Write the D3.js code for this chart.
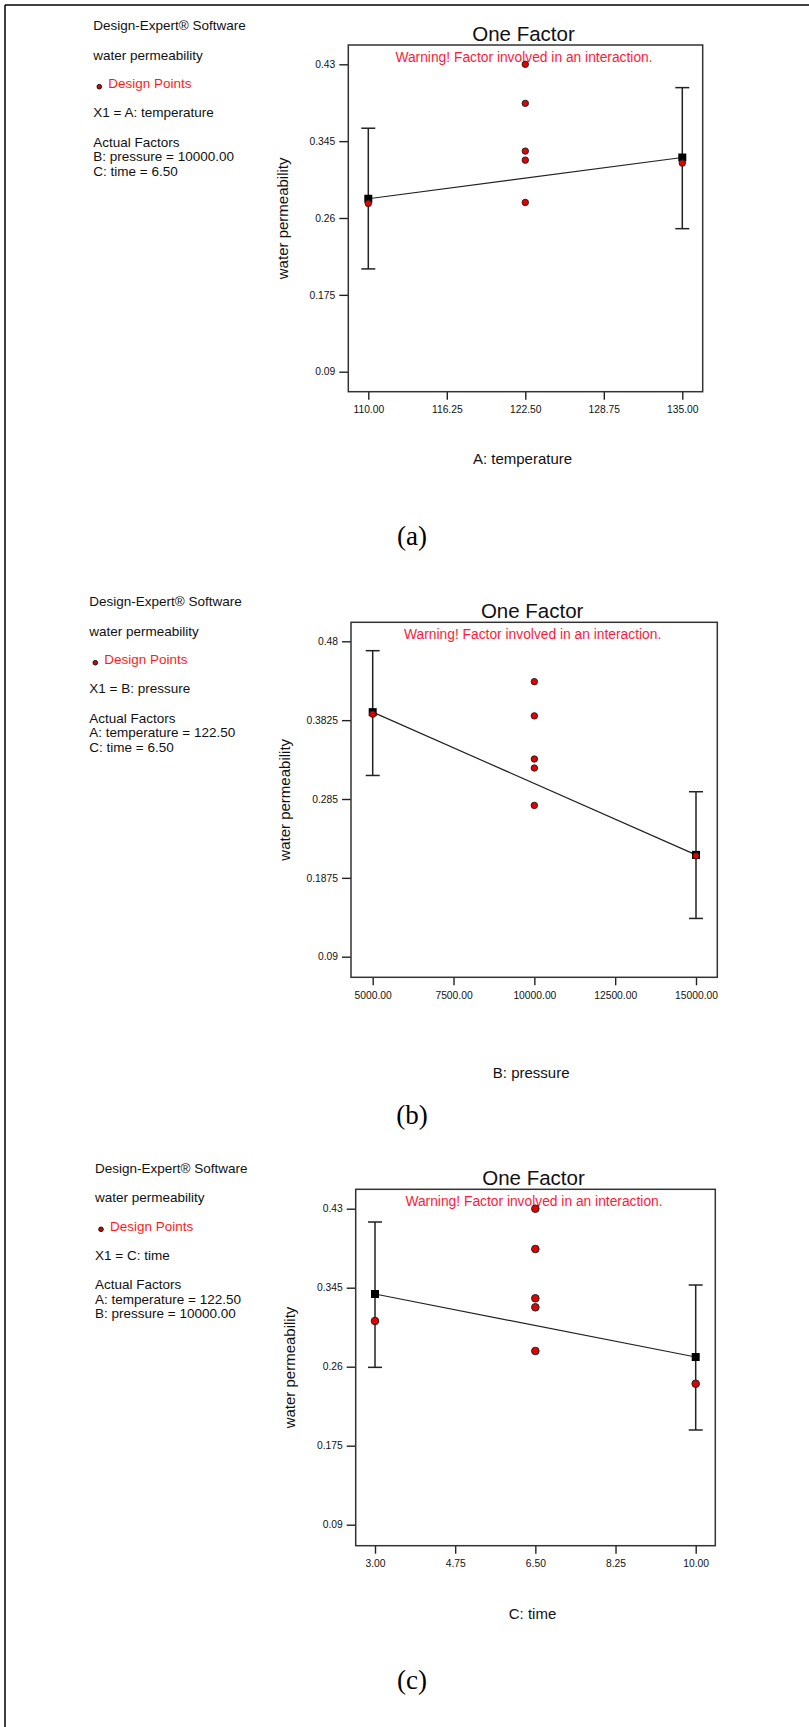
<!DOCTYPE html>
<html>
<head>
<meta charset="utf-8">
<script src="https://cdn.jsdelivr.net/npm/d3@7"></script>
<style>
  html, body { margin: 0; padding: 0; background: #fff; }
  svg { display: block; font-family: "Liberation Sans", Arial, sans-serif; }
</style>
</head>
<body>
<svg id="chart" width="809" height="1727"></svg>
<script>
// ---------------- DATA ----------------
const panelCaptions = ["(a)", "(b)", "(c)"];
const chartTitle = "One Factor";
const warningText = "Warning! Factor involved in an interaction.";
const responseName = "water permeability";
const xAxisTitles = ["A: temperature", "B: pressure", "C: time"];
const factorLines = ["X1 = A: temperature", "X1 = B: pressure", "X1 = C: time"];
const actualFactorsA = ["B: pressure = 10000.00", "C: time = 6.50"];
const actualFactorsB = ["A: temperature = 122.50", "C: time = 6.50"];
const actualFactorsC = ["A: temperature = 122.50", "B: pressure = 10000.00"];

// tick values and tick labels
const xTicksA = [110, 116.25, 122.5, 128.75, 135];
const xTickLabelsA = ["110.00", "116.25", "122.50", "128.75", "135.00"];
const xTicksB = [5000, 7500, 10000, 12500, 15000];
const xTickLabelsB = ["5000.00", "7500.00", "10000.00", "12500.00", "15000.00"];
const xTicksC = [3, 4.75, 6.5, 8.25, 10];
const xTickLabelsC = ["3.00", "4.75", "6.50", "8.25", "10.00"];
const yTicksA = [0.09, 0.175, 0.26, 0.345, 0.43];
const yTickLabelsA = ["0.09", "0.175", "0.26", "0.345", "0.43"];
const yTicksB = [0.09, 0.1875, 0.285, 0.3825, 0.48];
const yTickLabelsB = ["0.09", "0.1875", "0.285", "0.3825", "0.48"];
const yTicksC = [0.09, 0.175, 0.26, 0.345, 0.43];
const yTickLabelsC = ["0.09", "0.175", "0.26", "0.345", "0.43"];

// predicted means at factor levels with 95% CI bars
const levelsA = [110, 135];
const predA = [0.2813, 0.3269];
const lowA = [0.2037, 0.2482];
const highA = [0.3593, 0.4042];

const levelsB = [5000, 15000];
const predB = [0.3924, 0.2159];
const lowB = [0.3141, 0.1373];
const highB = [0.4684, 0.2940];

const levelsC = [3, 10];
const predC = [0.3382, 0.2704];
const lowC = [0.2593, 0.1919];
const highC = [0.4157, 0.3479];

// design points (actual observations)
const designXA = [110, 135, 122.5, 122.5, 122.5, 122.5, 122.5];
const designYA = [0.2761, 0.3207, 0.4300, 0.3868, 0.3340, 0.3240, 0.2772];
const designXB = [5000, 15000, 10000, 10000, 10000, 10000, 10000];
const designYB = [0.3899, 0.2147, 0.4301, 0.3878, 0.3344, 0.3233, 0.2771];
const designXC = [3, 10, 6.5, 6.5, 6.5, 6.5, 6.5];
const designYC = [0.3092, 0.2417, 0.4300, 0.3866, 0.3336, 0.3239, 0.2769];

// ---------------- LAYOUT ----------------
const SANS = "'Liberation Sans', Arial, sans-serif";
const SERIF = "'Liberation Serif', 'Times New Roman', serif";

const panels = [
  {
    caption: panelCaptions[0], xTitle: xAxisTitles[0], factor: factorLines[0], actual: actualFactorsA,
    xTicks: xTicksA, xTickLabels: xTickLabelsA, yTicks: yTicksA, yTickLabels: yTickLabelsA,
    levels: levelsA, pred: predA, low: lowA, high: highA, dx: designXA, dy: designYA,
    box: { l: 348.3, t: 45, r: 702.7, b: 391.7 },
    xr: [368.3, 682.3], yr: [371.7, 64.3], xTitleY: 458, captionX: 412, captionY: 545,
    leg: { x: 93.3, y0: 25.7 }, dotR: 3.2
  },
  {
    caption: panelCaptions[1], xTitle: xAxisTitles[1], factor: factorLines[1], actual: actualFactorsB,
    xTicks: xTicksB, xTickLabels: xTickLabelsB, yTicks: yTicksB, yTickLabels: yTickLabelsB,
    levels: levelsB, pred: predB, low: lowB, high: highB, dx: designXB, dy: designYB,
    box: { l: 351, t: 622.3, r: 717.3, b: 977.3 },
    xr: [372.7, 696], yr: [956.7, 641.3], xTitleY: 1072, captionX: 412, captionY: 1124,
    leg: { x: 89.3, y0: 601.7 }, dotR: 3.2
  },
  {
    caption: panelCaptions[2], xTitle: xAxisTitles[2], factor: factorLines[2], actual: actualFactorsC,
    xTicks: xTicksC, xTickLabels: xTickLabelsC, yTicks: yTicksC, yTickLabels: yTickLabelsC,
    levels: levelsC, pred: predC, low: lowC, high: highC, dx: designXC, dy: designYC,
    box: { l: 355.7, t: 1189.3, r: 715.3, b: 1545.7 },
    xr: [375, 695.7], yr: [1524.7, 1208.7], xTitleY: 1613.6, captionX: 412, captionY: 1689,
    leg: { x: 95, y0: 1168.3 }, dotR: 3.8
  }
];

const svg = d3.select("#chart");

// page frame (left and top edges)
svg.append("line").attr("x1", 5).attr("y1", 5).attr("x2", 809).attr("y2", 5)
  .attr("stroke", "#000").attr("stroke-width", 1.5);
svg.append("line").attr("x1", 5).attr("y1", 5).attr("x2", 5).attr("y2", 1727)
  .attr("stroke", "#000").attr("stroke-width", 1.5);

panels.forEach(p => {
  const g = svg.append("g");
  const x = d3.scaleLinear().domain([p.xTicks[0], p.xTicks[p.xTicks.length - 1]]).range(p.xr);
  const y = d3.scaleLinear().domain([p.yTicks[0], p.yTicks[p.yTicks.length - 1]]).range(p.yr);
  const cx = (p.box.l + p.box.r) / 2;
  const cy = (p.box.t + p.box.b) / 2;

  // Legend block on left
  const L = g.append("g").style("font-size", "13.5px").style("font-family", SANS).attr("fill", "#111");
  const lx = p.leg.x, ly = p.leg.y0;
  L.append("text").attr("x", lx).attr("y", ly).attr("dominant-baseline", "central").text("Design-Expert\u00AE Software");
  L.append("text").attr("x", lx).attr("y", ly + 29.5).attr("dominant-baseline", "central").text(responseName);
  L.append("circle").attr("cx", lx + 6).attr("cy", ly + 61).attr("r", 2.3)
    .attr("fill", "#d00").attr("stroke", "#111").attr("stroke-width", 1);
  L.append("text").attr("x", lx + 15).attr("y", ly + 57.8).attr("dominant-baseline", "central")
    .attr("fill", "#ff1a1a").text("Design Points");
  L.append("text").attr("x", lx).attr("y", ly + 87).attr("dominant-baseline", "central").text(p.factor);
  L.append("text").attr("x", lx).attr("y", ly + 116.3).attr("dominant-baseline", "central").text("Actual Factors");
  p.actual.forEach((s, i) => {
    L.append("text").attr("x", lx).attr("y", ly + 131 + i * 14.6).attr("dominant-baseline", "central").text(s);
  });

  // Title
  g.append("text").attr("x", cx - 2).attr("y", p.box.t - 4.5).attr("text-anchor", "middle")
    .style("font-size", "20.5px").style("font-family", SANS).attr("fill", "#111").text(chartTitle);

  // Axes
  const yAxis = d3.axisLeft(y).tickValues(p.yTicks).tickSize(9).tickPadding(4)
    .tickFormat((d, i) => p.yTickLabels[i]);
  const ya = g.append("g").attr("transform", `translate(${p.box.l},0)`).call(yAxis);
  ya.select(".domain").remove();
  ya.selectAll(".tick line").attr("stroke", "#222").attr("stroke-width", 1.4);
  ya.selectAll(".tick text").style("font-size", "10.3px").attr("fill", "#111")
    .style("font-family", SANS);

  const xAxis = d3.axisBottom(x).tickValues(p.xTicks).tickSize(8).tickPadding(4)
    .tickFormat((d, i) => p.xTickLabels[i]);
  const xa = g.append("g").attr("transform", `translate(0,${p.box.b})`).call(xAxis);
  xa.select(".domain").remove();
  xa.selectAll(".tick line").attr("stroke", "#222").attr("stroke-width", 1.4);
  xa.selectAll(".tick text").style("font-size", "10.3px").attr("fill", "#111")
    .style("font-family", SANS).attr("dy", "0.9em");

  // Plot box
  g.append("rect").attr("x", p.box.l).attr("y", p.box.t)
    .attr("width", p.box.r - p.box.l).attr("height", p.box.b - p.box.t)
    .attr("fill", "none").attr("stroke", "#333").attr("stroke-width", 1.5);

  // Warning
  g.append("text").attr("x", cx - 1.5).attr("y", p.box.t + 12.5).attr("text-anchor", "middle")
    .attr("dominant-baseline", "central").style("font-size", "13.8px").style("font-family", SANS)
    .attr("fill", "#ff1a3a").text(warningText);

  // Axis titles
  g.append("text").attr("transform", `translate(${p.box.l - 66.3},${cy}) rotate(-90)`)
    .attr("text-anchor", "middle").attr("dominant-baseline", "central")
    .style("font-size", "15px").style("font-family", SANS).attr("fill", "#111").text(responseName);
  g.append("text").attr("x", cx - 3).attr("y", p.xTitleY).attr("text-anchor", "middle")
    .attr("dominant-baseline", "central").style("font-size", "15px").style("font-family", SANS)
    .attr("fill", "#111").text(p.xTitle);

  // Fitted line
  const pts = p.levels.map((lv, i) => [x(lv), y(p.pred[i])]);
  g.append("path").attr("d", d3.line()(pts)).attr("fill", "none")
    .attr("stroke", "#222").attr("stroke-width", 1.2);

  // Error bars
  p.levels.forEach((lv, i) => {
    const xx = x(lv);
    const eg = g.append("g").attr("stroke", "#222").attr("stroke-width", 1.5);
    eg.append("line").attr("x1", xx).attr("x2", xx).attr("y1", y(p.high[i])).attr("y2", y(p.low[i]));
    eg.append("line").attr("x1", xx - 7).attr("x2", xx + 7).attr("y1", y(p.high[i])).attr("y2", y(p.high[i]));
    eg.append("line").attr("x1", xx - 7).attr("x2", xx + 7).attr("y1", y(p.low[i])).attr("y2", y(p.low[i]));
  });

  // Predicted squares
  p.levels.forEach((lv, i) => {
    g.append("rect").attr("x", x(lv) - 4).attr("y", y(p.pred[i]) - 4)
      .attr("width", 8).attr("height", 8).attr("fill", "#000");
  });

  // Design points
  p.dx.forEach((dv, i) => {
    g.append("circle").attr("cx", x(dv)).attr("cy", y(p.dy[i])).attr("r", p.dotR)
      .attr("fill", "#e60000").attr("stroke", "#222").attr("stroke-width", 1);
  });

  // Caption
  g.append("text").attr("x", p.captionX).attr("y", p.captionY).attr("text-anchor", "middle")
    .style("font-family", SERIF).style("font-size", "27px")
    .attr("fill", "#000").text(p.caption);
});
</script>
</body>
</html>
